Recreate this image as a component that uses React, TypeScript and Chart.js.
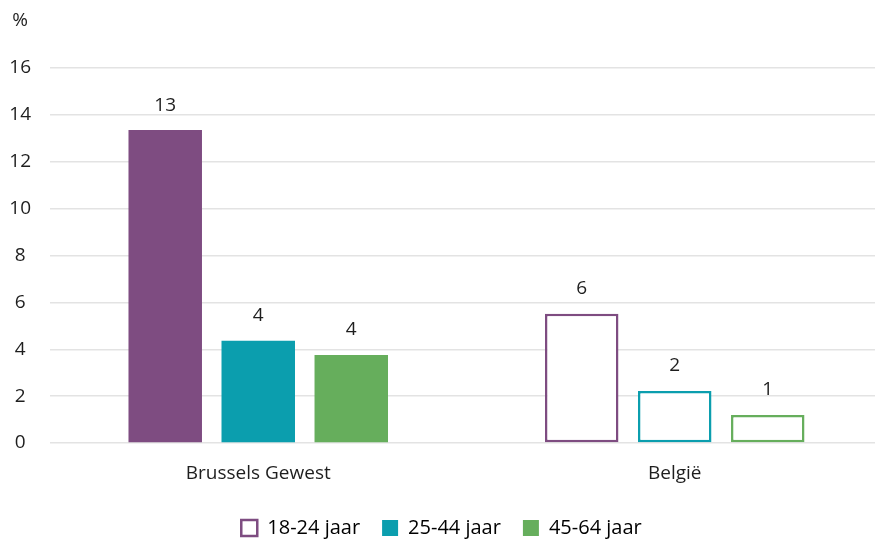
import React, { useEffect, useRef } from "react";
import { Chart, registerables } from "chart.js";

Chart.register(...registerables);

const categories = ["Brussels Gewest", "België"];
const seriesNames = ["18-24 jaar", "25-44 jaar", "45-64 jaar"];
const values1824 = [13.35, 5.52];
const values2544 = [4.36, 2.22];
const values4564 = [3.76, 1.2];
const yTicks = [0, 2, 4, 6, 8, 10, 12, 14, 16];
const yUnit = "%";

const colors = ["#7e4c81", "#0b9eae", "#66ae5c"];
const FONT = "'Open Sans', sans-serif";
const TEXT = "#1e1e1e";
const FS = 19;
const CW = 883;
const CH = 548;

export default function App() {
  const ref = useRef<HTMLCanvasElement | null>(null);

  useEffect(() => {
    document.body.style.margin = "0";
    const canvas = ref.current;
    if (!canvas) return;
    const seriesValues = [values1824, values2544, values4564];

    const labelPlugin = {
      id: "valueLabels",
      afterDatasetsDraw(chart: any) {
        const ctx = chart.ctx;
        ctx.save();
        ctx.font = `${FS}px ${FONT}`;
        ctx.fillStyle = TEXT;
        ctx.textAlign = "center";
        ctx.textBaseline = "middle";
        chart.data.datasets.forEach((ds: any, di: number) => {
          const meta = chart.getDatasetMeta(di);
          meta.data.forEach((el: any, i: number) => {
            const v = ds.data[i];
            ctx.fillText(String(Math.round(v)), el.x, el.y - 25);
          });
        });
        ctx.fillText(yUnit, 20, 21);
        ctx.restore();
      },
    };

    const chart = new Chart(canvas, {
      type: "bar",
      data: {
        labels: categories,
        datasets: seriesNames.map((name, si) => ({
          label: name,
          data: seriesValues[si],
          backgroundColor: [colors[si], "#ffffff"],
          borderColor: colors[si],
          borderWidth: [0, 2.5],
          borderSkipped: false,
          categoryPercentage: 0.67,
          barPercentage: 0.79,
        })),
      },
      options: {
        animation: false,
        responsive: false,
        maintainAspectRatio: false,
        layout: { padding: { top: 68, right: 0, left: 0, bottom: 0 } },
        scales: {
          x: {
            grid: { display: false },
            border: { display: false },
            ticks: {
              color: TEXT,
              font: { family: FONT, size: FS, lineHeight: 1.0 },
              padding: 13,
            },
          },
          y: {
            min: 0,
            max: 16,
            afterFit(scale: any) {
              scale.width = 50;
            },
            afterBuildTicks(scale: any) {
              scale.ticks = yTicks.map((v) => ({ value: v }));
            },
            grid: { color: "#e3e3e3", lineWidth: 1.5, drawTicks: false },
            border: { display: false },
            ticks: {
              color: TEXT,
              font: { family: FONT, size: FS },
              crossAlign: "center",
              padding: 19,
            },
          },
        },
        plugins: {
          tooltip: { enabled: false },
          legend: {
            position: "bottom",
            labels: {
              color: TEXT,
              font: { family: FONT, size: 20 },
              boxWidth: 16,
              boxHeight: 16,
              padding: 22,
              generateLabels: () =>
                seriesNames.map((name, si) => ({
                  text: name,
                  fillStyle: si === 0 ? "#ffffff" : colors[si],
                  strokeStyle: colors[si],
                  lineWidth: si === 0 ? 2.5 : 0,
                  datasetIndex: si,
                  hidden: false,
                })),
            },
          },
        },
      },
      plugins: [labelPlugin],
    } as any);

    return () => chart.destroy();
  }, []);

  return (
    <div style={{ position: "relative", width: 875, height: 543, overflow: "hidden" }}>
      <canvas ref={ref} width={CW} height={CH} style={{ display: "block" }} />
    </div>
  );
}
